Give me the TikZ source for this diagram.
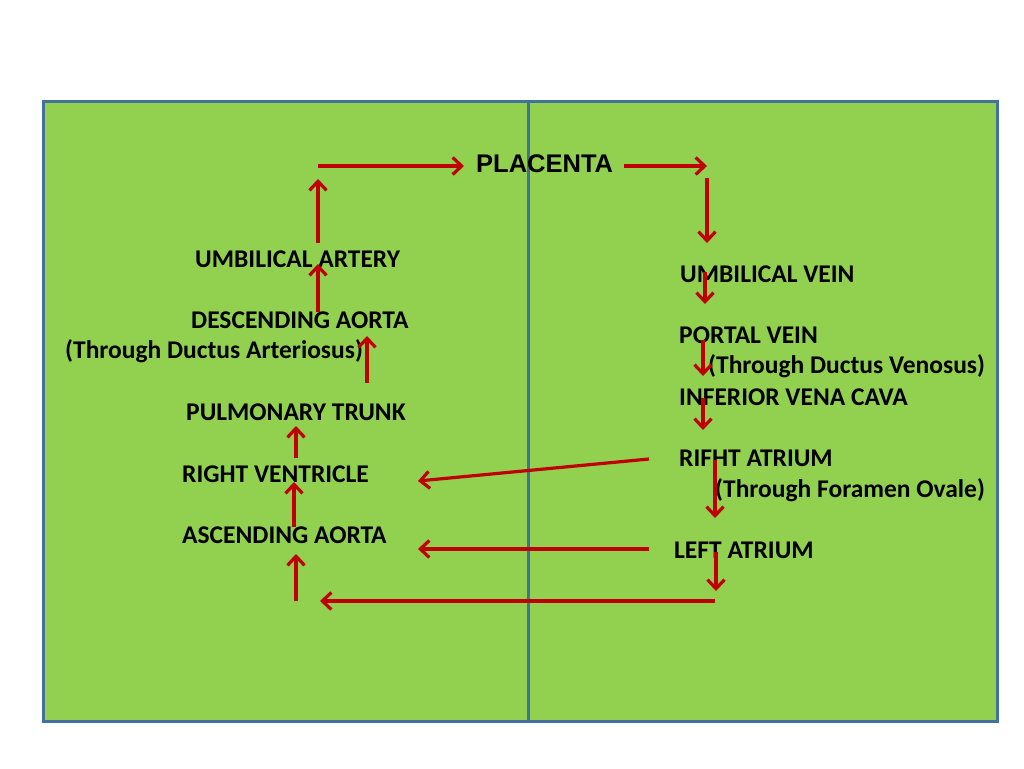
\documentclass[tikz,border=0pt]{standalone}
\usepackage{fontspec}
\setmainfont{Carlito}
\newfontfamily\arialfont{Liberation Sans}
\usetikzlibrary{arrows.meta}
\definecolor{bggreen}{HTML}{92D050}
\definecolor{frameblue}{HTML}{41719C}
\definecolor{arrowred}{HTML}{C00000}
\begin{document}
\begin{tikzpicture}[x=1pt,y=-1pt,
  lbl/.style={anchor=base west, inner sep=0pt, font=\fontsize{25.5}{30}\selectfont\bfseries},
  flow/.style={draw=arrowred, line width=3.2pt, -{Straight Barb[length=9pt,width=17pt]}},
  frame/.style={draw=frameblue, line width=3pt}]
\useasboundingbox (0,0) rectangle (1024,768);
\fill[white] (0,0) rectangle (1024,768);
\draw[frame, fill=bggreen] (43,101) rectangle (997,721);
\coordinate (divtop) at (528,101);
\coordinate (divbot) at (528,721);
\draw[frame] (divtop) -- (divbot);

% labels
\node[anchor=base west, inner sep=0pt, font=\arialfont\fontsize{25.5}{30}\selectfont\bfseries] (placenta) at (476,172) {PLACENTA};
\node[lbl] (ua)  at (195,267) {UMBILICAL ARTERY};
\node[lbl] (da)  at (191,328) {DESCENDING AORTA};
\node[lbl] (tda) at (65,358)  {(Through Ductus Arteriosus)};
\node[lbl] (pt)  at (186,420) {PULMONARY TRUNK};
\node[lbl] (rv)  at (182,482) {RIGHT VENTRICLE};
\node[lbl] (aa)  at (182,543) {ASCENDING AORTA};
\node[lbl] (uv)  at (680,282) {UMBILICAL VEIN};
\node[lbl] (pv)  at (679,343) {PORTAL VEIN};
\node[lbl] (tdv) at (708,373) {(Through Ductus Venosus)};
\node[lbl] (ivc) at (679,405) {INFERIOR VENA CAVA};
\node[lbl] (ra)  at (679,466) {RIFHT ATRIUM};
\node[lbl] (tfo) at (715,497) {(Through Foramen Ovale)};
\node[lbl] (la)  at (674,558) {LEFT ATRIUM};

% arrow end points
\coordinate (a1s) at (318,243);  \coordinate (a1e) at (318,179);
\coordinate (a2s) at (318,166);  \coordinate (a2e) at (464,166);
\coordinate (a3s) at (318,312);  \coordinate (a3e) at (318,264);
\coordinate (a4s) at (367,383);  \coordinate (a4e) at (367,336);
\coordinate (a5s) at (624,166);  \coordinate (a5e) at (707,166);
\coordinate (a6s) at (707,178);  \coordinate (a6e) at (707,243);
\coordinate (a7s) at (705,272);  \coordinate (a7e) at (705,304);
\coordinate (a8s) at (703,340);  \coordinate (a8e) at (703,376);
\coordinate (a9s) at (703,398);  \coordinate (a9e) at (703,430);
\coordinate (a10s) at (649,459); \coordinate (a10e) at (418,481);
\coordinate (a11s) at (715,460); \coordinate (a11e) at (715,518);
\coordinate (a12s) at (649,549); \coordinate (a12e) at (418,549);
\coordinate (a13s) at (716,552); \coordinate (a13e) at (716,591);
\coordinate (a14s) at (715,601); \coordinate (a14e) at (320,601);
\coordinate (a15s) at (296,601); \coordinate (a15e) at (296,554);
\coordinate (a16s) at (294,527); \coordinate (a16e) at (294,482);
\coordinate (a17s) at (296,458); \coordinate (a17e) at (296,426);

\foreach \i in {1,...,17} {\draw[flow] (a\i s) -- (a\i e);}
\end{tikzpicture}
\end{document}
